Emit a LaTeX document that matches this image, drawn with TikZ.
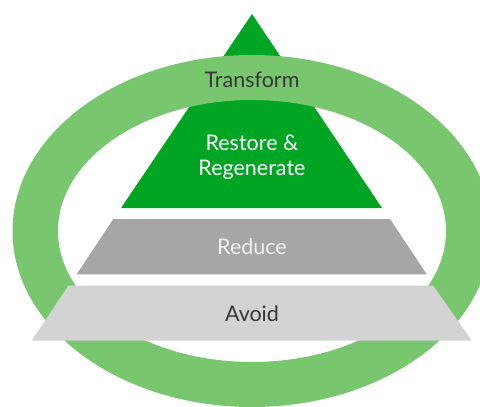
\documentclass[tikz,border=0pt]{standalone}
\usepackage{fontspec}
\setmainfont{Lato}
\definecolor{ringgreen}{RGB}{120,198,110}
\definecolor{topgreen}{RGB}{0,165,36}
\definecolor{midgray}{RGB}{166,166,166}
\definecolor{lowgray}{RGB}{211,211,211}
\definecolor{darktext}{RGB}{55,55,55}
\tikzset{
    level/.style={font=\fontsize{21.5}{25}\selectfont, align=center, inner sep=0pt},
}
\begin{document}
\begin{tikzpicture}[x=1pt,y=-1pt]
        \useasboundingbox (0,0) rectangle (480,407);

        \coordinate (Apex) at (252,14);
        \coordinate (BaseL) at (121,208);
        \coordinate (BaseR) at (382,208);
        \coordinate (Centre) at (252,231);

        % Draw top triangle
        \fill[topgreen] (Apex) -- (BaseR) -- (BaseL) -- cycle;

        % Draw ring
        \fill[ringgreen,even odd rule] (Centre) ellipse [x radius=239.5pt, y radius=176pt]
            (Centre) ellipse [x radius=194pt, y radius=131pt];

        % Draw lower layers
        \fill[midgray] (113.3,219) -- (390,219) -- (426.7,274.3) -- (76.7,274.3) -- cycle;
        \fill[lowgray] (68.3,285.7) -- (433.3,285.7) -- (471.7,340.7) -- (31.7,340.7) -- cycle;

        % Labels
        \node[level,text=darktext] (transform) at (252,80) {Transform};
        \node[level,text=white] (restore) at (252,157) {Restore \&\\Regenerate};
        \node[level,text=white!94!black] (reduce) at (252,247) {Reduce};
        \node[level,text=darktext] (avoid) at (252,314) {Avoid};

    \end{tikzpicture}
\end{document}
